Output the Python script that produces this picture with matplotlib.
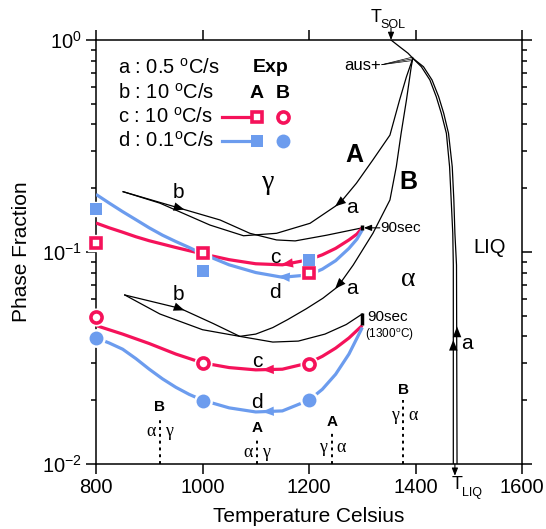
import numpy as np
import matplotlib
matplotlib.use("Agg")
import matplotlib.pyplot as plt
from matplotlib.ticker import MultipleLocator, NullLocator

plt.rcParams['font.family'] = ['Liberation Sans', 'DejaVu Sans']
plt.rcParams['mathtext.fontset'] = 'custom'
plt.rcParams['mathtext.rm'] = 'Liberation Sans'
plt.rcParams['mathtext.bf'] = 'Liberation Sans:bold'
plt.rcParams['mathtext.default'] = 'regular'

RED = '#F5125A'
BLUE = '#6C9CEE'
GREEK = ['Liberation Serif', 'DejaVu Serif']

# computed curves, steel A (upper set)
aA_T = [1395, 1383, 1370, 1352, 1320, 1289, 1258, 1202, 1139, 1077, 1014, 920, 851]
aA_f = [0.820, 0.671, 0.52, 0.356, 0.272, 0.211, 0.170, 0.1366, 0.1225, 0.1193, 0.134, 0.170, 0.1925]
bA_T = [851, 958, 1033, 1089, 1139, 1174, 1233, 1300]
bA_f = [0.1925, 0.1607, 0.1416, 0.1225, 0.114, 0.1128, 0.120, 0.130]
cA_T = [1300, 1290, 1275, 1250, 1225, 1200, 1150, 1100, 1050, 1000, 950, 900, 875, 850, 825, 800]
cA_f = [0.130, 0.1215, 0.114, 0.104, 0.097, 0.092, 0.087, 0.088, 0.092, 0.098, 0.105, 0.113, 0.118, 0.124, 0.130, 0.137]
dA_T = [1300, 1290, 1275, 1250, 1225, 1200, 1150, 1100, 1050, 1000, 975, 950, 925, 900, 875, 850, 825, 800]
dA_f = [0.127, 0.115, 0.104, 0.091, 0.083, 0.078, 0.076, 0.080, 0.087, 0.098, 0.105, 0.112, 0.120, 0.130, 0.142, 0.155, 0.170, 0.187]

# computed curves, steel B (lower set)
aB_T = [1395, 1392, 1383, 1373, 1364, 1352, 1320, 1283, 1254, 1226, 1195, 1160, 1132, 1100, 1070, 1000, 920, 854]
aB_f = [0.820, 0.748, 0.521, 0.363, 0.253, 0.176, 0.1225, 0.0868, 0.0686, 0.0605, 0.054, 0.048, 0.044, 0.041, 0.040, 0.043, 0.051, 0.0627]
bB_T = [854, 958, 1020, 1070, 1132, 1180, 1230, 1270, 1300]
bB_f = [0.0627, 0.0542, 0.046, 0.040, 0.0376, 0.038, 0.041, 0.0455, 0.051]
cB_T = [1300, 1275, 1250, 1225, 1200, 1150, 1100, 1050, 1000, 950, 900, 850, 800]
cB_f = [0.045, 0.0393, 0.0352, 0.0322, 0.0300, 0.0280, 0.0278, 0.0285, 0.0300, 0.033, 0.037, 0.041, 0.045]
dB_T = [1300, 1275, 1250, 1225, 1200, 1150, 1100, 1050, 1000, 975, 950, 925, 900, 875, 850, 825, 810]
dB_f = [0.044, 0.0330, 0.0265, 0.0225, 0.0200, 0.0178, 0.0176, 0.0184, 0.0200, 0.0213, 0.0230, 0.0252, 0.0280, 0.0314, 0.0348, 0.0372, 0.0385]

# liquid fraction (solidus -> liquidus), two traces
liq1_T = [1354, 1370, 1386, 1395, 1411, 1427, 1439, 1448.5, 1458, 1464, 1467, 1470, 1471, 1471]
liq1_f = [1.0, 0.930, 0.866, 0.820, 0.748, 0.648, 0.540, 0.451, 0.363, 0.2525, 0.176, 0.1225, 0.0868, 0.01]
liq2_T = [1395, 1415, 1431, 1443.5, 1453, 1462, 1469, 1472, 1474, 1477, 1478]
liq2_f = [0.820, 0.748, 0.648, 0.540, 0.451, 0.363, 0.2525, 0.176, 0.1225, 0.0868, 0.01]

# experimental points
exp_T = [800, 1000, 1200]
expA_c = [0.110, 0.099, 0.080]
expA_d = [0.159, 0.081, 0.0917]
expB_c = [0.0495, 0.0299, 0.0297]
expB_d = [0.0394, 0.0198, 0.0200]

# 90 s hold at 1300 C
hold_T = 1300
holdA = [0.127, 0.134]
holdB = [0.0454, 0.0516]

# transformation start temperatures (dotted markers)
trans_T = [920, 1102, 1243, 1377]
trans_top = [0.0167, 0.0133, 0.01415, 0.020]
trans_steel = ['B', 'A', 'A', 'B']
trans_left = ['α', 'α', 'γ', 'γ']
trans_right = ['γ', 'γ', 'α', 'α']

T_SOL = 1354
T_LIQ = 1474


def arrow_on(ax, T, f, tip, dT, color, ms=11):
    T = np.asarray(T, float)
    lf = np.log10(f)
    o = np.argsort(T)
    y1 = 10 ** np.interp(tip, T[o], lf[o])
    y0 = 10 ** np.interp(tip - dT, T[o], lf[o])
    ax.annotate('', xy=(tip, y1), xytext=(tip - dT, y0),
                arrowprops=dict(arrowstyle='-|>,head_length=0.7,head_width=0.28',
                                color=color, lw=0, shrinkA=0, shrinkB=0,
                                mutation_scale=ms), zorder=6)


fig = plt.figure(figsize=(5.46, 5.29), dpi=100)
ax = fig.add_axes([96 / 546, 1 - 464 / 529, 426 / 546, 424 / 529])
ax.set_yscale('log')
ax.set_xlim(800, 1600)
ax.set_ylim(0.01, 1.0)

# black model curves
for T, f in [(aA_T, aA_f), (bA_T, bA_f), (aB_T, aB_f), (bB_T, bB_f),
             (liq1_T, liq1_f), (liq2_T, liq2_f)]:
    ax.plot(T, f, color='k', lw=0.9, zorder=3)

# coloured cooling curves
for T, f, c in [(cA_T, cA_f, RED), (dA_T, dA_f, BLUE),
                (cB_T, cB_f, RED), (dB_T, dB_f, BLUE)]:
    ax.plot(T, f, color=c, lw=2.3, zorder=4, solid_capstyle='butt', solid_joinstyle='round')

# hold bars
ax.plot([hold_T, hold_T], holdA, color='k', lw=2.5, zorder=5, solid_capstyle='butt')
ax.plot([hold_T, hold_T], holdB, color='k', lw=2.5, zorder=5, solid_capstyle='butt')

# experiment markers with a white halo
ax.plot(exp_T, expA_c, 's', ms=11, mfc='white', mec='white', zorder=6, clip_on=False)
ax.plot(exp_T, expA_c, 's', ms=7.5, mfc='white', mec=RED, mew=2.6, zorder=7, clip_on=False)
ax.plot(exp_T, expA_d, 's', ms=10.5, mfc='white', mec='white', zorder=6, clip_on=False)
ax.plot(exp_T, expA_d, 's', ms=8, color=BLUE, mew=0, zorder=7, clip_on=False)
ax.plot(exp_T, expB_c, 'o', ms=12, mfc='white', mec='white', zorder=6, clip_on=False)
ax.plot(exp_T, expB_c, 'o', ms=8, mfc='white', mec=RED, mew=2.6, zorder=7, clip_on=False)
ax.plot(exp_T, expB_d, 'o', ms=12.5, mfc='white', mec='white', zorder=6, clip_on=False)
ax.plot(exp_T, expB_d, 'o', ms=10, color=BLUE, mew=0, zorder=7, clip_on=False)

# direction arrows
arrow_on(ax, bA_T, bA_f, 966, 14, 'k')
arrow_on(ax, aA_T, aA_f, 1249, -12, 'k')
arrow_on(ax, bB_T, bB_f, 966, 14, 'k')
arrow_on(ax, aB_T, aB_f, 1249, -10, 'k')
arrow_on(ax, cA_T, cA_f, 1148, -14, RED, 12)
arrow_on(ax, dA_T, dA_f, 1142, -14, BLUE, 12)
arrow_on(ax, cB_T, cB_f, 1112, -14, RED, 12)
arrow_on(ax, dB_T, dB_f, 1112, -14, BLUE, 12)
for x, y0, y1 in [(1471, 0.033, 0.0385), (1478, 0.038, 0.0445)]:
    ax.annotate('', xy=(x, y1), xytext=(x, y0),
                arrowprops=dict(arrowstyle='-|>,head_length=0.7,head_width=0.28',
                                color='k', lw=0, mutation_scale=11, shrinkA=0, shrinkB=0))

# transformation markers
for T, top, s, l, r in zip(trans_T, trans_top, trans_steel, trans_left, trans_right):
    ax.plot([T, T], [0.01, top], ls=(0, (1.5, 2)), color='k', lw=1.4, zorder=3)
    ax.text(T, top * 1.03, s, ha='center', va='bottom', fontsize=11, fontweight='bold')
    ax.text(T - 16, top * 0.85, l, ha='center', va='center', fontsize=13, family=GREEK)
    ax.text(T + 18, top * 0.85, r, ha='center', va='center', fontsize=13, family=GREEK)

# curve labels
lab = dict(ha='center', va='center', fontsize=15)
ax.text(954, 0.19, 'b', **lab)
ax.text(954, 0.0627, 'b', **lab)
ax.text(1281, 0.163, 'a', **lab)
ax.text(1281, 0.0676, 'a', **lab)
ax.text(1136, 0.0937, 'c', **lab)
ax.text(1136, 0.0641, 'd', **lab)
ax.text(1102, 0.0303, 'c', **lab)
ax.text(1102, 0.0196, 'd', **lab)
ax.text(1497, 0.0372, 'a', **lab)
ax.text(1123, 0.2116, 'γ', ha='center', va='center', fontsize=20, family=GREEK)
ax.text(1386, 0.0738, 'α', ha='center', va='center', fontsize=20, family=GREEK)
ax.text(1286, 0.2868, 'A', ha='center', va='center', fontsize=18, fontweight='bold')
ax.text(1386, 0.2138, 'B', ha='center', va='center', fontsize=18, fontweight='bold')
ax.text(1540, 0.1045, 'LIQ', ha='center', va='center', fontsize=14.5)

# hold annotations
ax.annotate('', xy=(1303, 0.130), xytext=(1333, 0.130),
            arrowprops=dict(arrowstyle='-|>,head_length=0.5,head_width=0.2', color='k',
                            lw=0.8, mutation_scale=9, shrinkA=0, shrinkB=0))
ax.text(1333, 0.130, '90sec', ha='left', va='center', fontsize=11)
ax.text(1309, 0.0495, '90sec', ha='left', va='center', fontsize=11)
ax.text(1305, 0.0406, r'(1300$^{\rm o}$C)', ha='left', va='center', fontsize=8.5)

ax.text(1335, 0.762, 'aus+', ha='right', va='center', fontsize=12)
for yj in [0.83, 0.815, 0.80]:
    ax.plot([1337, 1394], [0.765, yj], color='k', lw=0.5, zorder=3)

# solidus / liquidus markers
ax.annotate('', xy=(T_SOL, 1.0), xytext=(T_SOL, 1.14),
            arrowprops=dict(arrowstyle='-|>,head_length=0.5,head_width=0.2', color='k',
                            lw=0.8, mutation_scale=9, shrinkA=0, shrinkB=0),
            annotation_clip=False)
ax.text(1326, 1.27, 'T', ha='center', va='center', fontsize=13)
ax.text(1358, 1.18, 'SOL', ha='center', va='center', fontsize=9)
ax.annotate('', xy=(T_LIQ, 0.0088), xytext=(T_LIQ, 0.01),
            arrowprops=dict(arrowstyle='-|>,head_length=0.5,head_width=0.2', color='k',
                            lw=0.8, mutation_scale=9, shrinkA=0, shrinkB=0),
            annotation_clip=False)
ax.text(1478, 0.0080, 'T', ha='center', va='center', fontsize=13)
ax.text(1506, 0.0073, 'LIQ', ha='center', va='center', fontsize=9)

# key in the upper-left corner
key = ['a : 0.5 $^{\\rm o}$C/s', 'b : 10 $^{\\rm o}$C/s',
       'c : 10 $^{\\rm o}$C/s', 'd : 0.1$^{\\rm o}$C/s']
key_y = [0.934, 0.875, 0.818, 0.762]
for s, y in zip(key, key_y):
    ax.text(0.052, y, s, transform=ax.transAxes, ha='left', va='center', fontsize=14.5)
ax.text(0.410, 0.934, 'Exp', transform=ax.transAxes, ha='center', va='center',
        fontsize=14, fontweight='bold')
ax.text(0.378, 0.875, 'A', transform=ax.transAxes, ha='center', va='center',
        fontsize=14, fontweight='bold')
ax.text(0.439, 0.875, 'B', transform=ax.transAxes, ha='center', va='center',
        fontsize=14, fontweight='bold')
ax.plot([0.296, 0.360], [0.818, 0.818], color=RED, lw=2.3, transform=ax.transAxes)
ax.plot([0.296, 0.360], [0.762, 0.762], color=BLUE, lw=2.3, transform=ax.transAxes)
ax.plot([0.378], [0.818], 's', ms=7.5, mfc='white', mec=RED, mew=2.6, transform=ax.transAxes)
ax.plot([0.378], [0.762], 's', ms=8, color=BLUE, mew=0, transform=ax.transAxes)
ax.plot([0.439], [0.818], 'o', ms=8, mfc='white', mec=RED, mew=2.6, transform=ax.transAxes)
ax.plot([0.439], [0.762], 'o', ms=10, color=BLUE, mew=0, transform=ax.transAxes)

# axes styling
ax.xaxis.set_major_locator(MultipleLocator(200))
ax.xaxis.set_minor_locator(NullLocator())
for s in ax.spines.values():
    s.set_linewidth(1.1)
ax.tick_params(which='both', direction='out', top=True, right=True, width=1.1)
ax.tick_params(which='major', length=7, labelsize=14.5, pad=3)
ax.tick_params(which='minor', length=3.8)
ax.set_xlabel('Temperature Celsius', fontsize=15, labelpad=7)
ax.set_ylabel('Phase Fraction', fontsize=15, labelpad=8)

fig.savefig('out.png', dpi=100)
